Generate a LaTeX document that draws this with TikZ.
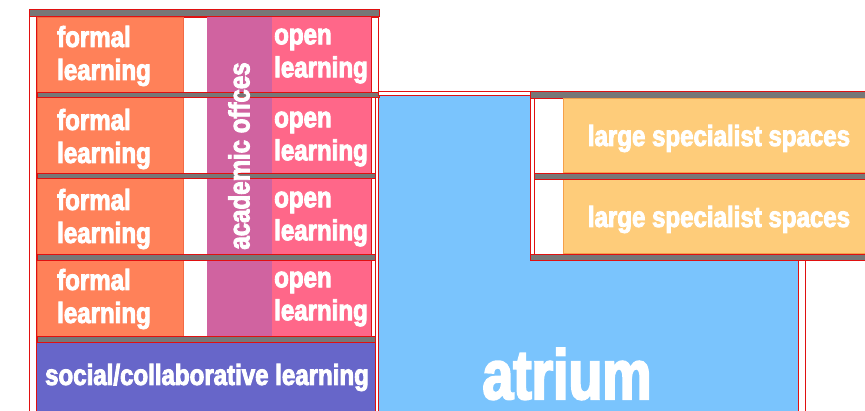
\documentclass[tikz,border=0pt]{standalone}
\usepackage{fontspec}
\newfontfamily\lbfont{Liberation Sans}[UprightFont={* Bold}, BoldFont={* Bold}, FakeStretch=0.83, FakeBold=3]
\newfontfamily\atfont{Liberation Sans}[UprightFont={* Bold}, BoldFont={* Bold}, FakeStretch=0.79, FakeBold=3]
\definecolor{wallred}{HTML}{E01010}
\definecolor{slabgray}{HTML}{777777}
\definecolor{formalc}{HTML}{FF8159}
\definecolor{formald}{HTML}{F26A45}
\definecolor{acadc}{HTML}{D063A0}
\definecolor{openc}{HTML}{FF6789}
\definecolor{socialc}{HTML}{6766C9}
\definecolor{atriumc}{HTML}{7AC4FD}
\definecolor{largec}{HTML}{FECC7A}
\definecolor{larged}{HTML}{F5A04A}
\tikzset{
  wall/.style={fill=white, draw=wallred, line width=0.8pt},
  room/.style={fill=white, draw=wallred, line width=0.8pt},
  slab/.style={fill=slabgray, draw=wallred, line width=0.8pt},
  lbl/.style={text=white, font={\lbfont\fontsize{29}{33}\selectfont}, inner sep=0pt, align=left},
}
\begin{document}
\begin{tikzpicture}[x=1pt,y=-1pt]
\useasboundingbox (0,0) rectangle (865,410);
% atrium
\fill[atriumc] (379,95) rectangle (798,412);
% left block walls
\draw[wall] (29.5,9.5) rectangle (36,412);
\draw[wall] (371,17) rectangle (378.5,412);
\draw[wallred, line width=0.6pt] (375,97) -- (375,412);
% left block rows
\foreach \t/\b in {17/92, 97/173, 178/254, 260/336}{
  \draw[room] (37,\t) rectangle (371,\b);
  \filldraw[fill=formalc, draw=formald, line width=0.6pt] (37,\t) rectangle (183,\b);
  \fill[openc] (272,\t) rectangle (371,\b);
}
\fill[acadc] (207,17) rectangle (272,336);
% social
\fill[socialc] (37,342) rectangle (375,412);
% slabs
\draw[slab] (29.5,9.5) rectangle (379,16.5);
\draw[slab] (37,92) rectangle (379,97);
\draw[slab] (37,173) rectangle (375,178);
\draw[slab] (37,254) rectangle (375,260);
\draw[slab] (37,336) rectangle (375,342);
% atrium top wall
\draw[wall] (378.5,91) rectangle (530,95);
% specialist block
\draw[slab] (530,91) rectangle (867,98);
\draw[wall] (530,98) rectangle (534,254);
\draw[room] (534,98) rectangle (867,173);
\draw[room] (534,179) rectangle (867,254);
\filldraw[fill=largec, draw=larged, line width=0.6pt] (563,98.5) rectangle (867,172);
\filldraw[fill=largec, draw=larged, line width=0.6pt] (563,179.5) rectangle (867,253);
\draw[slab] (534,173) rectangle (867,179);
\draw[slab] (530,254) rectangle (867,260);
\draw[wall] (798,260) rectangle (805,412);
% labels
\node[lbl, anchor=west] (fl1) at (57,56) {formal\\learning};
\node[lbl, anchor=west] (fl2) at (57,139) {formal\\learning};
\node[lbl, anchor=west] (fl3) at (57,219) {formal\\learning};
\node[lbl, anchor=west] (fl4) at (57,299) {formal\\learning};
\node[lbl, anchor=west] (ol1) at (274,56) {open\\learning};
\node[lbl, anchor=west] (ol2) at (274,139) {open\\learning};
\node[lbl, anchor=west] (ol3) at (274,219) {open\\learning};
\node[lbl, anchor=west] (ol4) at (274,299) {open\\learning};
\node[lbl, rotate=90] (acad) at (239,156) {academic offces};
\node[lbl] (soc) at (207,377.5) {social/collaborative learning};
\node[lbl] (ls1) at (719,138.5) {large specialist spaces};
\node[lbl] (ls2) at (719,219.5) {large specialist spaces};
\node[text=white, font={\atfont\fontsize{70}{70}\selectfont}, inner sep=0pt, anchor=base] (atr) at (567,399) {atrium};
\end{tikzpicture}
\end{document}
